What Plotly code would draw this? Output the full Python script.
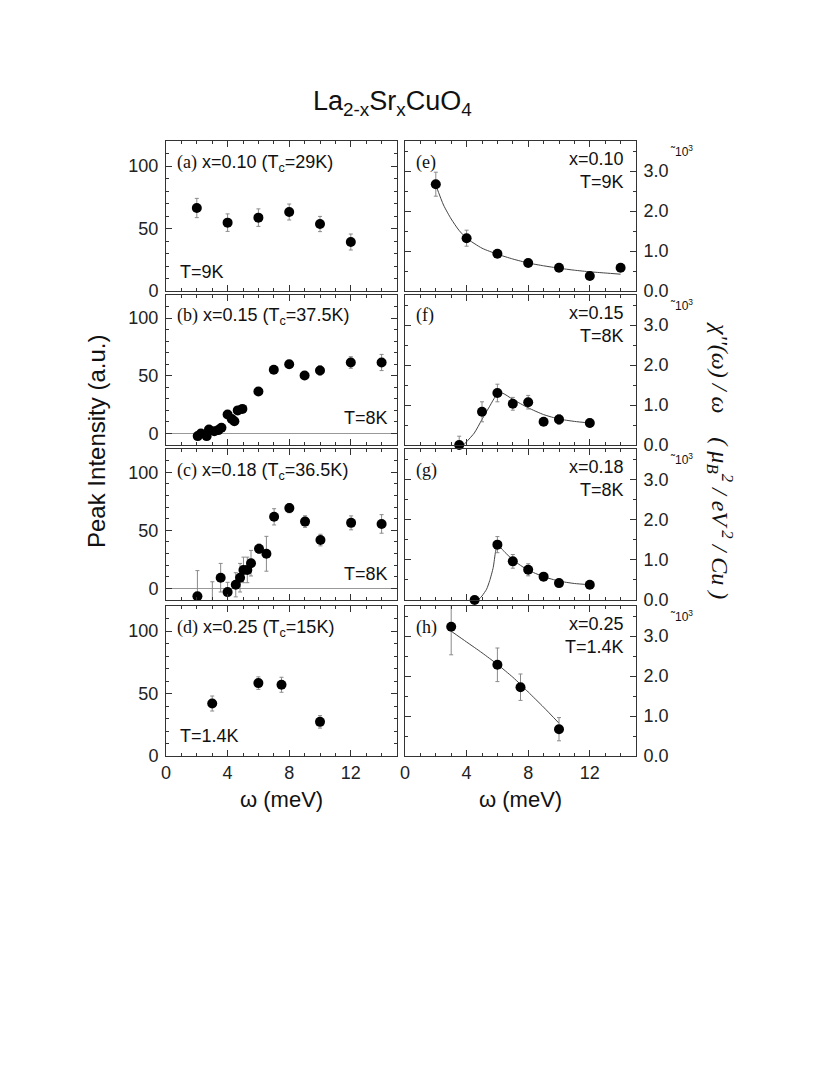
import plotly.graph_objects as go

# ---- data ----
# left column: peak intensity (a.u.) vs omega (meV)
a_w = [2, 4, 6, 8, 10, 12]
a_I = [66.4, 54.7, 58.7, 63.2, 53.6, 39.2]
a_err = [7.7, 7.0, 7.0, 6.4, 6.1, 6.4]

b_w = [2.06, 2.27, 2.64, 2.79, 3.14, 3.4, 3.6, 4.0, 4.27, 4.44, 4.66, 4.96, 6.0, 7.0, 8.0, 9.0, 10.0, 12.0, 14.0]
b_I = [-2.3, 0.0, -2.3, 3.4, 2.0, 2.9, 4.9, 16.4, 12.6, 10.6, 20.0, 21.3, 36.3, 55.2, 60.0, 50.3, 54.6, 61.5, 61.5]
b_err = [1.5, 1.5, 1.5, 1.5, 1.5, 1.5, 1.5, 1.5, 1.5, 1.5, 1.5, 1.5, 2.0, 2.5, 3.0, 2.0, 4.0, 5.0, 7.0]

c_w = [2.04, 3.01, 3.55, 4.0, 4.53, 4.81, 5.03, 5.28, 5.52, 6.04, 6.52, 7.02, 8.01, 9.03, 10.03, 12.02, 14.0]
c_I = [-6.7, -16.0, 9.2, -3.2, 3.1, 9.2, 15.9, 15.9, 21.7, 34.1, 29.8, 61.6, 69.1, 57.5, 41.6, 56.4, 55.5]
c_err = [22.0, 21.7, 12.3, 8.4, 10.4, 12.3, 11.0, 11.0, 11.0, 4.0, 15.0, 7.0, 4.0, 5.0, 5.0, 6.0, 8.0]

d_w = [3, 6, 7.5, 10]
d_I = [42.0, 58.3, 57.0, 27.3]
d_err = [6.0, 5.0, 6.0, 5.0]

# right column: chi''(w)/w (x10^3 muB^2/eV^2/Cu)
e_w = [2, 4, 6, 8, 10, 12, 14]
e_chi = [2.67, 1.32, 0.93, 0.70, 0.58, 0.375, 0.58]
e_err = [0.3, 0.2, 0.08, 0.06, 0.05, 0.05, 0.05]
e_fit_w = [2, 2.5, 3, 3.5, 4, 5, 6, 7, 8, 9, 10, 11, 12, 13, 14]
e_fit = [2.65, 2.15, 1.8, 1.52, 1.32, 1.07, 0.92, 0.8, 0.7, 0.63, 0.57, 0.52, 0.48, 0.45, 0.42]

f_w = [3.52, 5, 6, 7, 8, 9, 10, 12]
f_chi = [0.0, 0.83, 1.30, 1.03, 1.07, 0.58, 0.64, 0.55]
f_err = [0.22, 0.25, 0.22, 0.16, 0.17, 0.08, 0.12, 0.1]
f_fit_w = [3.8, 4.5, 5, 5.5, 5.95, 6.3, 7, 8, 9, 10, 11, 12]
f_fit = [0.0, 0.3, 0.64, 0.97, 1.25, 1.30, 1.14, 0.93, 0.76, 0.65, 0.59, 0.55]

g_w = [4.52, 6, 7, 8, 9, 10, 12]
g_chi = [0.0, 1.375, 0.96, 0.75, 0.58, 0.42, 0.38]
g_err = [0.05, 0.2, 0.17, 0.15, 0.08, 0.06, 0.05]
g_fit_w = [4.75, 5.0, 5.3, 5.5, 5.73, 5.88, 6.0, 6.5, 7, 7.5, 8, 9, 10, 11, 12]
g_fit = [0.0, 0.1, 0.27, 0.48, 0.81, 1.2, 1.37, 1.18, 1.0, 0.86, 0.74, 0.58, 0.47, 0.41, 0.38]

h_w = [3, 6, 7.5, 10]
h_chi = [3.23, 2.28, 1.72, 0.67]
h_err = [0.7, 0.42, 0.33, 0.29]
h_fit_w = [3, 4, 5, 6, 7, 7.5, 8, 9, 10]
h_fit = [3.12, 2.85, 2.58, 2.29, 1.97, 1.79, 1.6, 1.22, 0.82]

W, H = 830, 1075
OFF = 8  # the page body has an 8px margin; positions below are page pixels
SANS = "Liberation Sans, Arial, sans-serif"
SERIF = "Liberation Serif, Times New Roman, serif"
AX = "#333333"
ERR = "#8a8a8a"


def px(x):
    return (x - OFF) / W


def py(y):
    return 1 - (y - OFF) / H


# panel boxes in page pixels: (left, right) columns, (top, bottom) rows
cols = [(166, 397), (405, 636)]
rows = [(141, 291), (295, 445), (449, 600), (606, 756)]

panels = [
    (a_w, a_I, a_err, None, None),
    (b_w, b_I, b_err, None, None),
    (c_w, c_I, c_err, None, None),
    (d_w, d_I, d_err, None, None),
    (e_w, e_chi, e_err, e_fit_w, e_fit),
    (f_w, f_chi, f_err, f_fit_w, f_fit),
    (g_w, g_chi, g_err, g_fit_w, g_fit),
    (h_w, h_chi, h_err, h_fit_w, h_fit),
]
left_ranges = [[0, 120], [-10, 120], [-10, 120], [0, 120]]

fig = go.Figure()
layout = {}
for i, (xs, ys, errs, fx, fy) in enumerate(panels):
    n = i + 1
    col, row = divmod(i, 4)
    xk = "x" if n == 1 else f"x{n}"
    yk = "y" if n == 1 else f"y{n}"
    if fx is not None:
        fig.add_trace(go.Scatter(
            x=fx, y=fy, mode="lines", line={"color": "#444", "width": 1, "shape": "spline", "smoothing": 0.6},
            xaxis=xk, yaxis=yk, hoverinfo="skip"))
    fig.add_trace(go.Scatter(
        x=xs, y=ys, mode="markers",
        marker={"size": 10, "color": "black"},
        error_y={"type": "data", "array": errs, "color": ERR, "thickness": 1, "width": 2},
        cliponaxis=n not in (6, 7),
        xaxis=xk, yaxis=yk))

    l, r = cols[col]
    t, b = rows[row]
    tick_common = dict(
        showline=True, linecolor=AX, linewidth=1, mirror="ticks",
        ticks="inside", ticklen=6, tickcolor=AX, tickwidth=1,
        showgrid=False, tickfont={"family": SANS, "size": 18, "color": "#222"},
    )
    xname = "xaxis" if n == 1 else f"xaxis{n}"
    yname = "yaxis" if n == 1 else f"yaxis{n}"
    layout[xname] = dict(
        tick_common, domain=[px(l), px(r)], range=[0, 15], anchor=yk,
        tick0=0, dtick=4, zeroline=False, showticklabels=(row == 3),
        minor={"dtick": 1, "ticks": "inside", "ticklen": 3, "tickcolor": AX},
    )
    if col == 0:
        layout[yname] = dict(
            tick_common, domain=[py(b), py(t)], range=left_ranges[row], anchor=xk,
            tick0=0, dtick=50, ticklabelstandoff=3,
            zeroline=row in (1, 2), zerolinecolor="#999", zerolinewidth=1,
            minor={"dtick": 10, "ticks": "inside", "ticklen": 3, "tickcolor": AX},
        )
    else:
        layout[yname] = dict(
            tick_common, domain=[py(b), py(t)], range=[0, 3.75], anchor=xk,
            side="right", tick0=0, dtick=1, tickformat=".1f", zeroline=False, ticklabelstandoff=3,
            minor={"dtick": 0.5, "ticks": "inside", "ticklen": 3, "tickcolor": AX},
        )

ann = []


def note(text, ref, x, y, xanchor="left", size=18, **kw):
    xr = "x domain" if ref == 1 else f"x{ref} domain"
    yr = "y domain" if ref == 1 else f"y{ref} domain"
    ann.append(dict(text=text, xref=xr, yref=yr, x=x, y=y, xanchor=xanchor, yanchor="middle",
                    showarrow=False, font={"family": SANS, "size": size, "color": "#111"}, **kw))


def lab(letter):
    return f"<span style='font-family:Liberation Serif'>({letter})</span>"


note(f"{lab('a')} x=0.10 (T<sub>c</sub>=29K)", 1, 0.04, 0.85)
note("T=9K", 1, 0.05, 0.125)
note(f"{lab('b')} x=0.15 (T<sub>c</sub>=37.5K)", 2, 0.04, 0.855)
note("T=8K", 2, 0.97, 0.18, xanchor="right")
note(f"{lab('c')} x=0.18 (T<sub>c</sub>=36.5K)", 3, 0.04, 0.85)
note("T=8K", 3, 0.97, 0.175, xanchor="right")
note(f"{lab('d')} x=0.25 (T<sub>c</sub>=15K)", 4, 0.04, 0.853)
note("T=1.4K", 4, 0.05, 0.13)
for ref, letter, xv, tv in [(5, "e", "0.10", "9K"), (6, "f", "0.15", "8K"),
                            (7, "g", "0.18", "8K"), (8, "h", "0.25", "1.4K")]:
    note(lab(letter), ref, 0.04, 0.86)
    note(f"x={xv}<br>T={tv}", ref, 0.955, 0.805, xanchor="right", align="right")
    ann.append(dict(text="˜10<sup>3</sup>", xref="paper", yref=f"y{ref}", x=px(668), y=3.5,
                    xanchor="left", yanchor="middle", showarrow=False,
                    font={"family": SANS, "size": 12, "color": "#111"}))

ann.append(dict(text="La<sub>2-x</sub>Sr<sub>x</sub>CuO<sub>4</sub>", xref="paper", yref="paper",
                x=px(392), y=py(103), showarrow=False, xanchor="center", yanchor="middle",
                font={"family": SANS, "size": 27, "color": "#111"}))
ann.append(dict(text="Peak Intensity (a.u.)", xref="paper", yref="paper", x=px(96), y=py(442),
                textangle=-90, showarrow=False, xanchor="center", yanchor="middle",
                font={"family": SANS, "size": 24, "color": "#111"}))
ann.append(dict(text="<i>χ''(ω) / ω    ( μ<sub>B</sub><sup>2</sup> / eV<sup> 2</sup> / Cu )</i>",
                xref="paper", yref="paper", x=px(720), y=py(460),
                textangle=90, showarrow=False, xanchor="center", yanchor="middle",
                font={"family": SERIF, "size": 24, "color": "#111"}))
for cx in (281, 520):
    ann.append(dict(text="ω (meV)", xref="paper", yref="paper", x=px(cx), y=py(799),
                    showarrow=False, xanchor="center", yanchor="middle",
                    font={"family": SANS, "size": 22, "color": "#111"}))

fig.update_layout(
    width=W, height=H,
    margin={"l": 0, "r": 0, "t": 0, "b": 0, "autoexpand": False},
    paper_bgcolor="white", plot_bgcolor="white",
    showlegend=False,
    annotations=ann,
    **layout,
)

fig.write_html("out.html")
